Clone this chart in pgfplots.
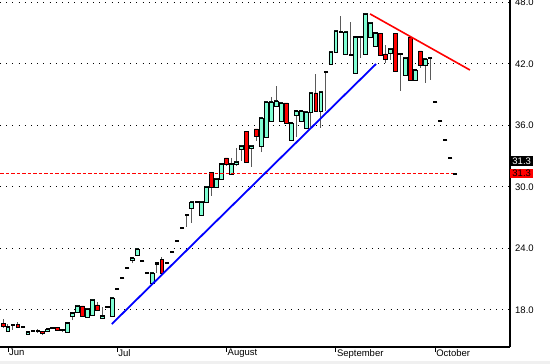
\documentclass[border=0pt]{standalone}
\usepackage{fontspec}
\setmainfont{Liberation Sans}
\usepackage{pgfplots}
\usepackage{pgfplotstable}
\pgfplotsset{compat=1.18}
\definecolor{upcol}{RGB}{127,255,212}
\definecolor{wick}{RGB}{90,90,90}
\definecolor{refred}{RGB}{255,0,0}
\pgfplotstableread{
i O H L C
0 16.73 17.12 16.24 16.44
1 15.95 16.63 15.95 16.34
2 16.54 16.54 16.05 16.54
3 16.63 16.83 16.24 16.34
4 16.34 16.34 16.34 16.34
5 15.66 15.90 15.60 15.85
6 15.95 15.95 15.95 15.95
7 15.95 16.14 15.76 15.95
8 15.95 15.95 15.56 15.76
9 15.95 16.20 15.90 16.14
10 16.34 16.34 16.20 16.20
11 16.34 16.34 16.05 16.05
12 16.05 16.14 15.85 16.05
13 15.85 16.73 15.85 16.73
14 17.41 17.70 17.02 17.70
15 17.80 18.39 17.80 18.39
16 18.39 18.39 17.41 17.41
17 17.32 18.10 17.32 18.10
18 17.51 18.98 17.51 18.98
19 18.49 18.78 18.00 18.00
20 17.22 18.29 17.22 17.41
21 18.29 18.29 18.29 18.29
22 17.41 19.17 17.41 19.17
23 20.05 20.05 20.05 20.05
24 21.12 21.12 21.12 21.12
25 22.10 22.10 22.10 22.10
26 22.88 23.07 22.58 23.07
27 23.37 23.95 23.37 23.95
28 22.78 22.78 22.78 22.78
29 21.61 21.61 21.61 21.61
30 20.63 21.61 20.63 21.61
31 22.49 22.58 21.61 22.58
32 22.97 23.17 21.61 21.61
33 22.58 22.58 22.58 22.58
34 23.66 23.66 23.66 23.66
35 24.73 24.73 24.73 24.73
36 26.00 26.00 26.00 26.00
37 27.27 27.27 26.10 27.27
38 27.95 28.54 26.49 28.54
39 28.54 28.54 28.54 28.54
40 27.27 28.54 27.27 28.54
41 28.54 30.00 28.54 30.00
42 31.46 31.46 29.12 30.00
43 30.00 30.78 30.00 30.78
44 30.78 32.24 30.78 32.24
45 32.83 32.83 32.05 32.24
46 31.27 32.83 31.27 32.24
47 32.24 33.80 32.05 32.44
48 33.71 34.00 32.54 34.00
49 35.46 35.46 32.44 32.44
50 33.80 34.00 31.95 34.00
51 35.66 35.66 34.49 34.98
52 34.00 36.73 33.41 36.73
53 34.88 38.29 34.88 38.29
54 36.44 38.78 36.44 38.29
55 37.90 39.85 37.90 38.39
56 36.44 38.20 36.44 38.20
57 38.20 38.20 36.24 36.24
58 34.59 36.24 34.59 36.24
59 37.02 37.41 34.88 37.41
60 36.44 37.41 36.44 37.41
61 35.76 37.32 35.76 37.32
62 37.32 39.17 35.85 39.17
63 39.17 41.02 37.41 37.41
64 37.41 39.27 35.76 39.27
65 41.22 41.22 37.41 41.22
66 42.00 43.17 42.00 43.17
67 43.17 45.22 43.17 45.22
68 45.12 46.68 45.12 45.12
69 42.98 45.12 42.98 45.12
70 42.88 46.10 42.88 42.88
71 41.12 44.63 41.12 44.63
72 44.63 44.63 42.59 44.63
73 42.98 46.88 42.98 46.88
74 44.63 46.00 44.63 46.00
75 43.76 45.02 43.76 45.02
76 45.02 45.02 42.88 42.88
77 42.98 43.85 42.10 42.49
78 43.07 43.46 42.39 43.46
79 45.02 45.02 41.32 41.32
80 42.98 42.98 39.37 42.98
81 40.93 42.59 40.93 42.59
82 44.63 44.63 40.44 40.44
83 40.44 41.41 40.44 41.41
84 43.27 43.27 41.61 41.90
85 41.90 42.49 40.15 42.49
86 42.59 42.59 40.44 42.59
87 38.29 38.29 38.29 38.29
88 36.44 36.44 36.44 36.44
89 34.59 34.59 34.59 34.59
90 32.83 32.83 32.83 32.83
91 31.27 31.27 31.27 31.27
}\data
\pgfplotsset{common/.style={width=510bp, height=347bp, scale only axis,
  xmin=-0.604, xmax=102.07, ymin=14.39, ymax=48.24}}
\newcommand{\lblfont}{\fontsize{9.5bp}{11bp}\selectfont}
\begin{document}
\begin{tikzpicture}
% background axis: grid, axes, labels, wicks
\begin{axis}[common, clip=false,
  axis x line*=bottom, axis y line*=right,
  x axis line style={-, black, line width=1.3bp},
  y axis line style={-, black, line width=1.3bp},
  xtick={1,23,45,67,87},
  xticklabels={Jun,Jul,August,September,October},
  x tick style={black, line width=0.8bp},
  major tick length=5bp, tick align=outside,
  xticklabel style={anchor=north west, inner sep=0pt, xshift=1bp, yshift=3bp, font=\lblfont},
  ytick={18,24,30,36,42,48},
  y tick style={draw=none},
  yticklabel style={anchor=west, inner sep=0pt, font=\lblfont,
    /pgf/number format/.cd, fixed, fixed zerofill, precision=1, assume math mode=true},
  ymajorgrids,
  major grid style={black, dash pattern=on 1bp off 5.2bp, line width=1bp},
]
\coordinate (bl) at (rel axis cs:0,0);
\addplot[draw=none, no marks, forget plot,
  error bars/.cd, y dir=plus, y explicit, error mark=none,
  error bar style={draw=wick, solid, line width=1bp}]
  table[x=i, y=L, y error plus expr=\thisrow{H}-\thisrow{L}] {\data};
\addplot[black, only marks, mark=-, mark size=2.2bp, mark options={solid, line width=1.3bp}]
  table[x=i, y=C] {\data};
\node[fill=black, text=white, anchor=west, inner sep=0pt, minimum width=23bp, minimum height=10bp, font=\lblfont]
  at (axis cs:102.07,31.3) [yshift=12.3bp] {31.3};
\node[fill=refred, text=black, anchor=west, inner sep=0pt, minimum width=23bp, minimum height=9.5bp, font=\lblfont]
  at (axis cs:102.07,31.3) {31.3};
\end{axis}
% candle bodies
\begin{axis}[common, hide axis, ybar stacked, bar width=3.8bp]
\addplot[draw=none, fill=none] table[x=i, y expr={min(\thisrow{O},\thisrow{C})}] {\data};
\addplot[draw=black, fill=upcol, line width=0.8bp] table[x=i, y expr={max(\thisrow{C}-\thisrow{O},0)}] {\data};
\addplot[draw=black, fill=refred, line width=0.8bp] table[x=i, y expr={max(\thisrow{O}-\thisrow{C},0)}] {\data};
\end{axis}
% trend lines and reference line
\begin{axis}[common, hide axis]
\addplot[draw=refred, line width=1.3bp, dash pattern=on 3.5bp off 2bp] coordinates {(-0.6,31.3) (90.6,31.3)};
\addplot[draw=blue, line width=1.8bp] coordinates {(21.9,16.63) (75.1,42.00)};
\addplot[draw=refred, line width=1.6bp] coordinates {(73.9,46.88) (94.0,41.41)};
\end{axis}
\fill[gray!12] (bl) ++(0,-17bp) rectangle ++(550bp,3.5bp);
\pgfresetboundingbox
\path[use as bounding box] (bl) ++(0,-17bp) rectangle ++(550bp,364bp);
\end{tikzpicture}
\end{document}
